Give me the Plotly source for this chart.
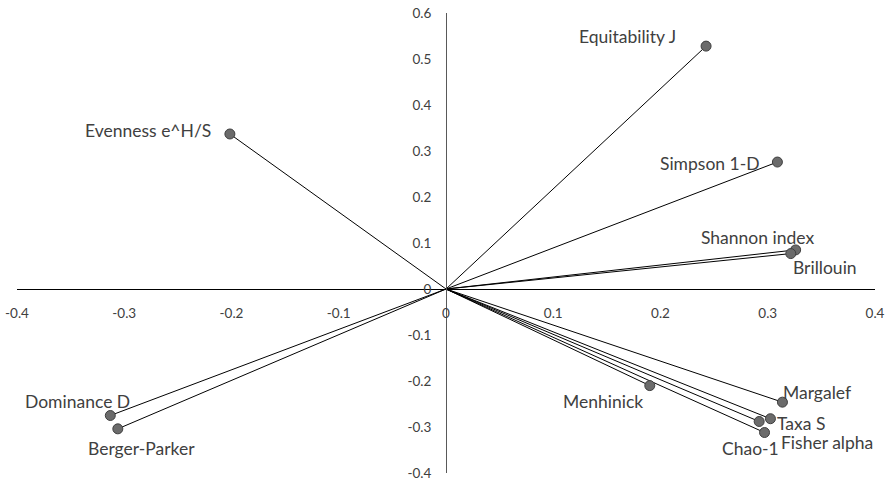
import plotly.graph_objects as go

names = ["Equitability J", "Evenness e^H/S", "Simpson 1-D", "Shannon index", "Brillouin",
         "Margalef", "Taxa S", "Chao-1", "Fisher alpha", "Menhinick", "Dominance D", "Berger-Parker"]
xs = [0.2425, -0.2015, 0.309, 0.326, 0.3215, 0.3137, 0.3025, 0.292, 0.297, 0.190, -0.313, -0.306]
ys = [0.528, 0.337, 0.276, 0.085, 0.077, -0.246, -0.282, -0.288, -0.312, -0.210, -0.275, -0.304]
# label offsets in pixels (relative to point; positive yshift = up)
label_dx = [-79, -82, -67, -38, 34, 35, 31, -9, 62, -47, -33, 24]
label_dy = [10, 3, -1, 12, -14, 10, -5, -27, -10, -16, 14, -20]

x_ticks = [-0.4, -0.3, -0.2, -0.1, 0, 0.1, 0.2, 0.3, 0.4]
y_ticks = [-0.4, -0.3, -0.2, -0.1, 0, 0.1, 0.2, 0.3, 0.4, 0.5, 0.6]

fig = go.Figure()
lx, ly = [], []
for x, y in zip(xs, ys):
    lx += [0, x, None]
    ly += [0, y, None]
fig.add_trace(go.Scatter(x=lx, y=ly, mode="lines", line=dict(color="#000000", width=1),
                         hoverinfo="skip", showlegend=False))
fig.add_trace(go.Scatter(x=xs, y=ys, mode="markers", text=names,
                         marker=dict(size=10, color="#6b6b6b", line=dict(color="#3f3f3f", width=1)),
                         showlegend=False))
for n, x, y, dx, dy in zip(names, xs, ys, label_dx, label_dy):
    fig.add_annotation(x=x, y=y, text=n, showarrow=False, xshift=dx, yshift=dy,
                       font=dict(family="Lato", size=17.5, color="#404040"))

def fmt(v):
    return "0" if v == 0 else f"{v:.1f}"

fig.update_layout(
    width=890, height=484,
    margin=dict(l=17, r=15, t=13, b=11, autoexpand=False),
    paper_bgcolor="white", plot_bgcolor="white",
    font=dict(family="Lato", size=13.5, color="#404040"),
    xaxis=dict(range=[-0.4, 0.4], tickvals=x_ticks, ticktext=[fmt(v) for v in x_ticks],
               showgrid=False, zeroline=False, showline=True, linecolor="#000000", linewidth=1,
               anchor="free", position=0.4, ticks="", ticklabelstandoff=12, automargin=False,
               ticklabeloverflow="allow"),
    yaxis=dict(range=[-0.4, 0.6], tickvals=y_ticks, ticktext=[fmt(v) for v in y_ticks],
               showgrid=False, zeroline=False, showline=True, linecolor="#595959", linewidth=1,
               anchor="free", position=0.5, ticks="", ticklabelstandoff=12, automargin=False,
               ticklabeloverflow="allow"),
)
fig.write_html("out.html", config={"displayModeBar": False},
               post_script="document.body.style.margin='0';")
